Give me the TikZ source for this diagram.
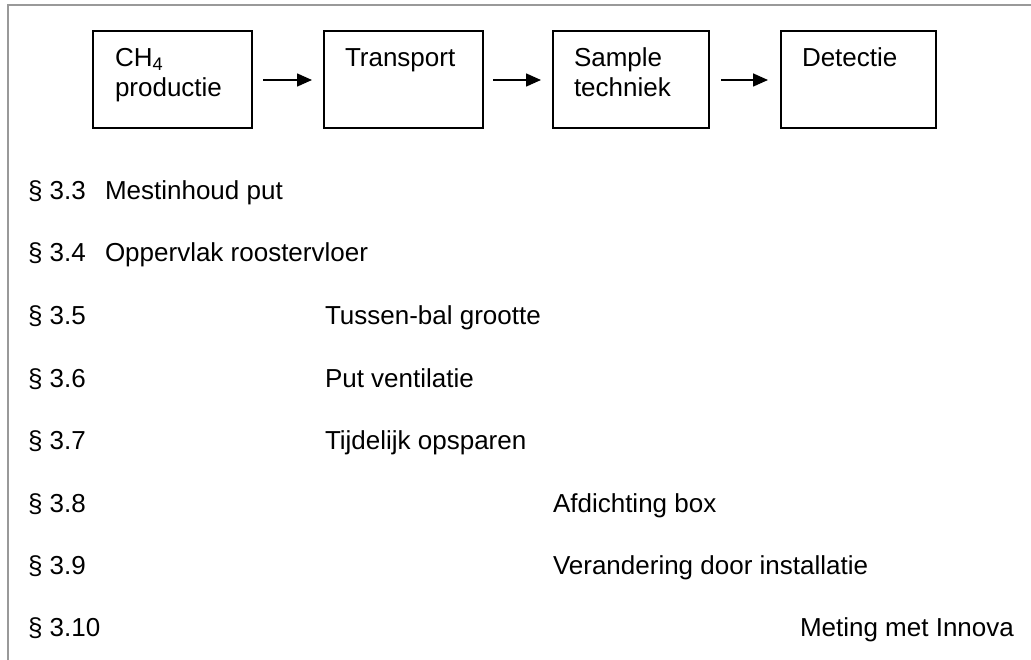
\documentclass[tikz,border=0pt]{standalone}
\usepackage{fontspec}
\setmainfont{Liberation Sans}
\usetikzlibrary{arrows.meta}
\begin{document}
\begin{tikzpicture}[x=1pt,y=-1pt,
  every node/.style={font=\fontsize{26}{30}\selectfont, inner sep=0pt, outer sep=0pt},
  box/.style={draw=black, line width=1.6pt, minimum height=97pt, anchor=north west},
  btxt/.style={anchor=base west},
  ltxt/.style={anchor=base west},
  arr/.style={line width=1.6pt, -{Triangle[length=15pt,width=13pt]}},
  frame/.style={draw=gray!80, line width=2pt}]
\useasboundingbox (0,0) rectangle (1031,660);
\draw[frame] (8,660) -- (8,5) -- (1031,5);
% boxes
\node[box, minimum width=159pt] (b1) at (93,31) {};
\node[box, minimum width=159pt] (b2) at (324,31) {};
\node[box, minimum width=156pt] (b3) at (553,31) {};
\node[box, minimum width=155pt] (b4) at (781,31) {};
\node[btxt] (t1a) at (115,67) {CH\textsubscript{4}};
\node[btxt] (t1b) at (115,97) {productie};
\node[btxt] (t2) at (345,67) {Transport};
\node[btxt] (t3a) at (574,67) {Sample};
\node[btxt] (t3b) at (574,97) {techniek};
\node[btxt] (t4) at (802,67) {Detectie};
% arrows
\coordinate (a1s) at (263,80); \coordinate (a1e) at (312,80);
\coordinate (a2s) at (493,80); \coordinate (a2e) at (541,80);
\coordinate (a3s) at (721,80); \coordinate (a3e) at (768,80);
\draw[arr] (a1s) -- (a1e);
\draw[arr] (a2s) -- (a2e);
\draw[arr] (a3s) -- (a3e);
% list
\node[ltxt] (p33) at (28,200) {§ 3.3};
\node[ltxt] (l33) at (105,200) {Mestinhoud put};
\node[ltxt] (p34) at (28,262) {§ 3.4};
\node[ltxt] (l34) at (105,262) {Oppervlak roostervloer};
\node[ltxt] (p35) at (28,325) {§ 3.5};
\node[ltxt] (l35) at (325,325) {Tussen-bal grootte};
\node[ltxt] (p36) at (28,387) {§ 3.6};
\node[ltxt] (l36) at (325,387) {Put ventilatie};
\node[ltxt] (p37) at (28,449) {§ 3.7};
\node[ltxt] (l37) at (325,449) {Tijdelijk opsparen};
\node[ltxt] (p38) at (28,512) {§ 3.8};
\node[ltxt] (l38) at (553,512) {Afdichting box};
\node[ltxt] (p39) at (28,574) {§ 3.9};
\node[ltxt] (l39) at (553,574) {Verandering door installatie};
\node[ltxt] (p310) at (28,636) {§ 3.10};
\node[ltxt] (l310) at (800,636) {Meting met Innova};
\end{tikzpicture}
\end{document}
